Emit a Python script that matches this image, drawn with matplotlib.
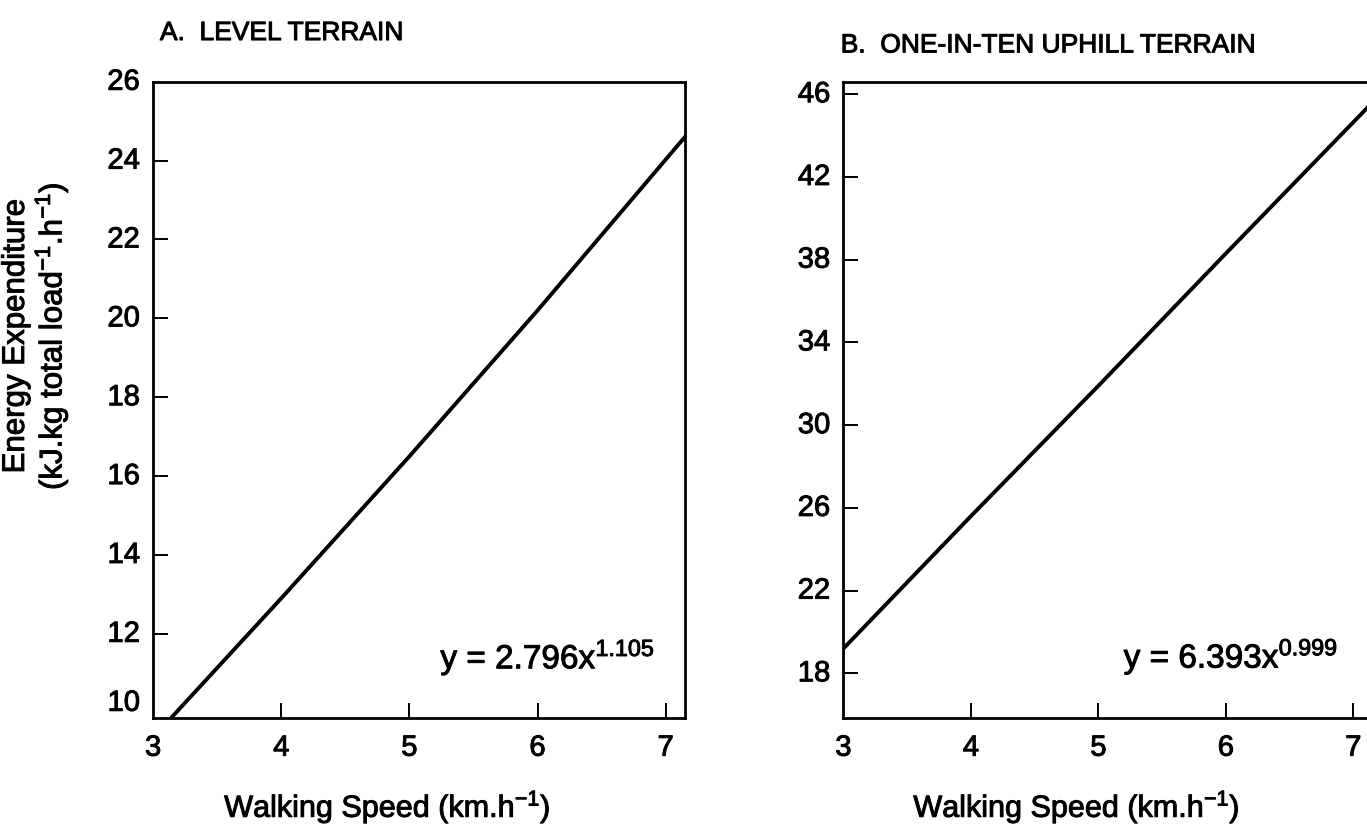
import numpy as np
import matplotlib
matplotlib.use('Agg')
import matplotlib.pyplot as plt
import matplotlib.patheffects as pe

# Fuentes parecidas a Helvetica
plt.rcParams['font.family'] = ['Liberation Sans', 'DejaVu Sans']
plt.rcParams['mathtext.default'] = 'regular'

# Datos
# A. terreno llano
vel_llano = [3.15, 4, 5, 6, 7.15]
gasto_llano = [9.9, 12.9, 16.5, 20.2, 24.6]
ticks_y_llano = [12, 14, 16, 18, 20, 22, 24]
etiquetas_y_llano = [10, 12, 14, 16, 18, 20, 22, 24, 26]

# B. cuesta arriba uno en diez
vel_cuesta = [3, 4, 5, 6, 7.15]
gasto_cuesta = [19.2, 25.6, 31.9, 38.3, 45.6]
ticks_y_cuesta = [18, 22, 26, 30, 34, 38, 42, 46]

ticks_x = [3, 4, 5, 6, 7]

titulos = ['A.  LEVEL TERRAIN', 'B.  ONE-IN-TEN UPHILL TERRAIN']
ecuaciones = [r'y = 2.796x$^{1.105}$', r'y = 6.393x$^{0.999}$']
xlabel = r'Walking Speed (km.h$^{-1}$)'
ylabel = 'Energy Expenditure\n' + r'(kJ.kg total load$^{-1}$.h$^{-1}$)'

# trazo fino para que el texto se vea mas grueso, como en el escaneo
grueso = [pe.withStroke(linewidth=0.7, foreground='black')]

fig = plt.figure(figsize=(13.67, 8.26), dpi=100)
ax1 = fig.add_axes([0.112, 0.131, 0.389, 0.770])
ax2 = fig.add_axes([0.617, 0.131, 0.387, 0.770])

for ax in (ax1, ax2):
    for s in ax.spines.values():
        s.set_linewidth(2.0)
    ax.tick_params(direction='in', length=11, width=1.4, labelsize=21, pad=9)
    ax.set_xlim(3, 7.15)
    ax.set_xlabel(xlabel, fontsize=22, path_effects=grueso)
    ax.xaxis.set_label_coords(0.44, -0.11)

# Panel A
ax1.plot(vel_llano, gasto_llano, color='black', lw=2.8)
ax1.set_ylim(9.87, 26)
ax1.set_xticks(ticks_x[1:])
ax1.set_yticks(ticks_y_llano)
ax1.set_yticklabels([])
ax1.set_xticklabels([])
# etiquetas de los ejes como texto (incluye 3, 10 y 26 sin marca)
for v in ticks_x:
    ax1.text(v, -0.025, str(v), transform=ax1.get_xaxis_transform(),
             ha='center', va='top', fontsize=21, path_effects=grueso)
for v in etiquetas_y_llano:
    yy = max(v, 10.25)
    ax1.text(-0.025, yy, str(v), transform=ax1.get_yaxis_transform(),
             ha='right', va='center', fontsize=21, path_effects=grueso)
ax1.set_ylabel(ylabel, fontsize=22.5, linespacing=1.05, path_effects=grueso)
ax1.yaxis.set_label_coords(-0.155, 0.6)
ax1.text(6.08, 11.4, ecuaciones[0], ha='center', va='center', fontsize=24,
         path_effects=grueso)

# Panel B
ax2.plot(vel_cuesta, gasto_cuesta, color='black', lw=2.8)
ax2.set_ylim(15.85, 46.6)
ax2.set_xticks(ticks_x[1:])
ax2.set_yticks(ticks_y_cuesta)
ax2.set_xticklabels([])
ax2.set_yticklabels([])
for v in ticks_x:
    ax2.text(v, -0.025, str(v), transform=ax2.get_xaxis_transform(),
             ha='center', va='top', fontsize=21, path_effects=grueso)
for v in ticks_y_cuesta:
    ax2.text(-0.025, v, str(v), transform=ax2.get_yaxis_transform(),
             ha='right', va='center', fontsize=21, path_effects=grueso)
ax2.text(6.04, 18.8, ecuaciones[1], ha='center', va='center', fontsize=24,
         path_effects=grueso)

# Titulos de los paneles
fig.text(0.117, 0.96, titulos[0], fontsize=19, ha='left', va='center',
         path_effects=grueso)
fig.text(0.615, 0.945, titulos[1], fontsize=19, ha='left', va='center',
         path_effects=grueso)

fig.savefig('out.png', dpi=100, facecolor='white')
